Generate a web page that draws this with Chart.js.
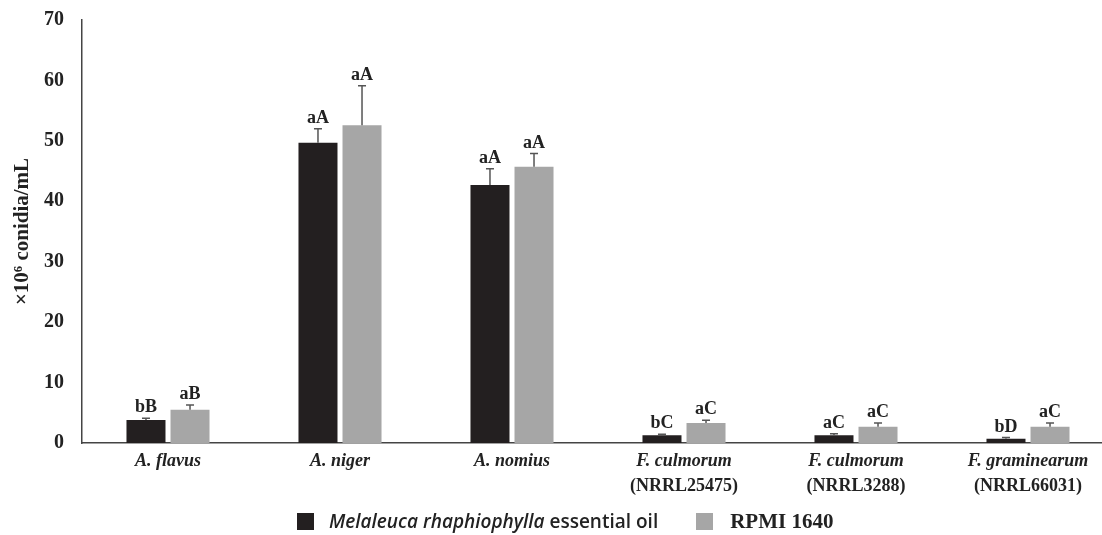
<!DOCTYPE html>
<html>
<head>
<meta charset="utf-8">
<script src="https://cdn.jsdelivr.net/npm/chart.js@4/dist/chart.umd.min.js"></script>
<style>
  html, body { margin: 0; padding: 0; background: #fff; overflow: hidden; }
  #wrap { position: relative; width: 1102px; height: 535px; overflow: hidden; }
  #chart { position: absolute; left: 0; top: 0; }
  #legend { position: absolute; left: 297px; top: 510px; height: 22px; display: flex; align-items: center; white-space: nowrap; }
  .sw { display: inline-block; width: 17px; height: 17px; }
  .oil { font-family: "Open Sans", sans-serif; font-size: 19px; font-weight: 600; color: #222; margin-left: 15px; margin-right: 38px; }
  .rpmi { font-family: "Liberation Serif", serif; font-size: 21px; font-weight: bold; color: #222; margin-left: 17px; }
</style>
</head>
<body>
<div id="wrap">
  <!-- the plot area runs a little past the right edge, as in the original -->
  <canvas id="chart" width="1114" height="535"></canvas>
  <div id="legend">
    <span class="sw" style="background:#231f20"></span>
    <span class="oil"><i>Melaleuca rhaphiophylla</i> essential oil</span>
    <span class="sw" style="background:#a6a6a6"></span>
    <span class="rpmi">RPMI 1640</span>
  </div>
</div>
<script>
  // categories
  const species = ['A. flavus', 'A. niger', 'A. nomius', 'F. culmorum', 'F. culmorum', 'F. graminearum'];
  const strains = ['', '', '', '(NRRL25475)', '(NRRL3288)', '(NRRL66031)'];

  // x10^6 conidia/mL
  const oilValues = [3.8, 49.7, 42.7, 1.3, 1.3, 0.7];
  const oilErrors = [0.3, 2.3, 2.7, 0.15, 0.25, 0.2];
  const rpmiValues = [5.5, 52.6, 45.7, 3.3, 2.7, 2.7];
  const rpmiErrors = [0.8, 6.5, 2.2, 0.45, 0.6, 0.6];

  const oilLetters = ['bB', 'aA', 'aA', 'bC', 'aC', 'bD'];
  const rpmiLetters = ['aB', 'aA', 'aA', 'aC', 'aC', 'aC'];

  const yTicks = [0, 10, 20, 30, 40, 50, 60, 70];

  const serif = '"Liberation Serif", "Times New Roman", serif';
  const textColor = '#222';

  // error bars + letters above each bar
  const errorBarPlugin = {
    id: 'errorBars',
    afterDatasetsDraw(chart) {
      const ctx = chart.ctx;
      const y = chart.scales.y;
      const errs = [oilErrors, rpmiErrors];
      const letters = [oilLetters, rpmiLetters];
      chart.data.datasets.forEach((ds, di) => {
        const meta = chart.getDatasetMeta(di);
        meta.data.forEach((bar, i) => {
          const top = y.getPixelForValue(ds.data[i] + errs[di][i]);
          ctx.save();
          ctx.strokeStyle = '#555';
          ctx.lineWidth = 1.5;
          ctx.beginPath();
          ctx.moveTo(bar.x, bar.y);
          ctx.lineTo(bar.x, top);
          ctx.moveTo(bar.x - 4, top);
          ctx.lineTo(bar.x + 4, top);
          ctx.stroke();
          ctx.fillStyle = textColor;
          ctx.font = 'bold 18px ' + serif;
          ctx.textAlign = 'center';
          ctx.textBaseline = 'alphabetic';
          ctx.fillText(letters[di][i], bar.x, top - 6);
          ctx.restore();
        });
      });
    }
  };

  // second (upright) line of the x labels
  const strainPlugin = {
    id: 'strainLabels',
    afterDraw(chart) {
      const ctx = chart.ctx;
      const x = chart.scales.x;
      ctx.save();
      ctx.fillStyle = textColor;
      ctx.font = 'bold 18px ' + serif;
      ctx.textAlign = 'center';
      ctx.textBaseline = 'middle';
      strains.forEach((s, i) => {
        if (s) ctx.fillText(s, x.getPixelForValue(i), 486);
      });
      ctx.restore();
    }
  };

  new Chart(document.getElementById('chart'), {
    type: 'bar',
    data: {
      labels: species.map(s => [s, ' ']),
      datasets: [
        {
          label: 'Melaleuca rhaphiophylla essential oil',
          data: oilValues,
          backgroundColor: '#231f20',
          categoryPercentage: 0.512,
          barPercentage: 0.886
        },
        {
          label: 'RPMI 1640',
          data: rpmiValues,
          backgroundColor: '#a6a6a6',
          categoryPercentage: 0.512,
          barPercentage: 0.886
        }
      ]
    },
    options: {
      responsive: false,
      animation: false,
      layout: {
        padding: { top: 20, right: 0, bottom: 0, left: 0 }
      },
      scales: {
        x: {
          grid: { display: false, drawTicks: false },
          border: { display: true, color: '#444', width: 1.5 },
          ticks: {
            color: textColor,
            padding: 7,
            maxRotation: 0,
            autoSkip: false,
            font: { family: serif, size: 18, weight: 'bold', style: 'italic', lineHeight: 1.25 }
          },
          afterFit(scale) { scale.height = 92; }
        },
        y: {
          min: 0,
          max: 70,
          afterBuildTicks(scale) { scale.ticks = yTicks.map(v => ({ value: v })); },
          grid: { display: false, drawTicks: false },
          border: { display: true, color: '#444', width: 1.5 },
          ticks: {
            color: textColor,
            padding: 18,
            font: { family: serif, size: 20, weight: 'bold' }
          },
          title: {
            display: true,
            text: '×10⁶ conidia/mL',
            color: textColor,
            padding: { top: 10, bottom: 0 },
            font: { family: serif, size: 21, weight: 'bold' }
          },
          afterFit(scale) {
            scale.width = 82;
            // top of the plot is set by layout.padding only
            scale.paddingTop = 0;
            scale.paddingBottom = 0;
          }
        }
      },
      plugins: {
        legend: { display: false },
        tooltip: { enabled: false }
      }
    },
    plugins: [errorBarPlugin, strainPlugin]
  });
</script>
</body>
</html>
